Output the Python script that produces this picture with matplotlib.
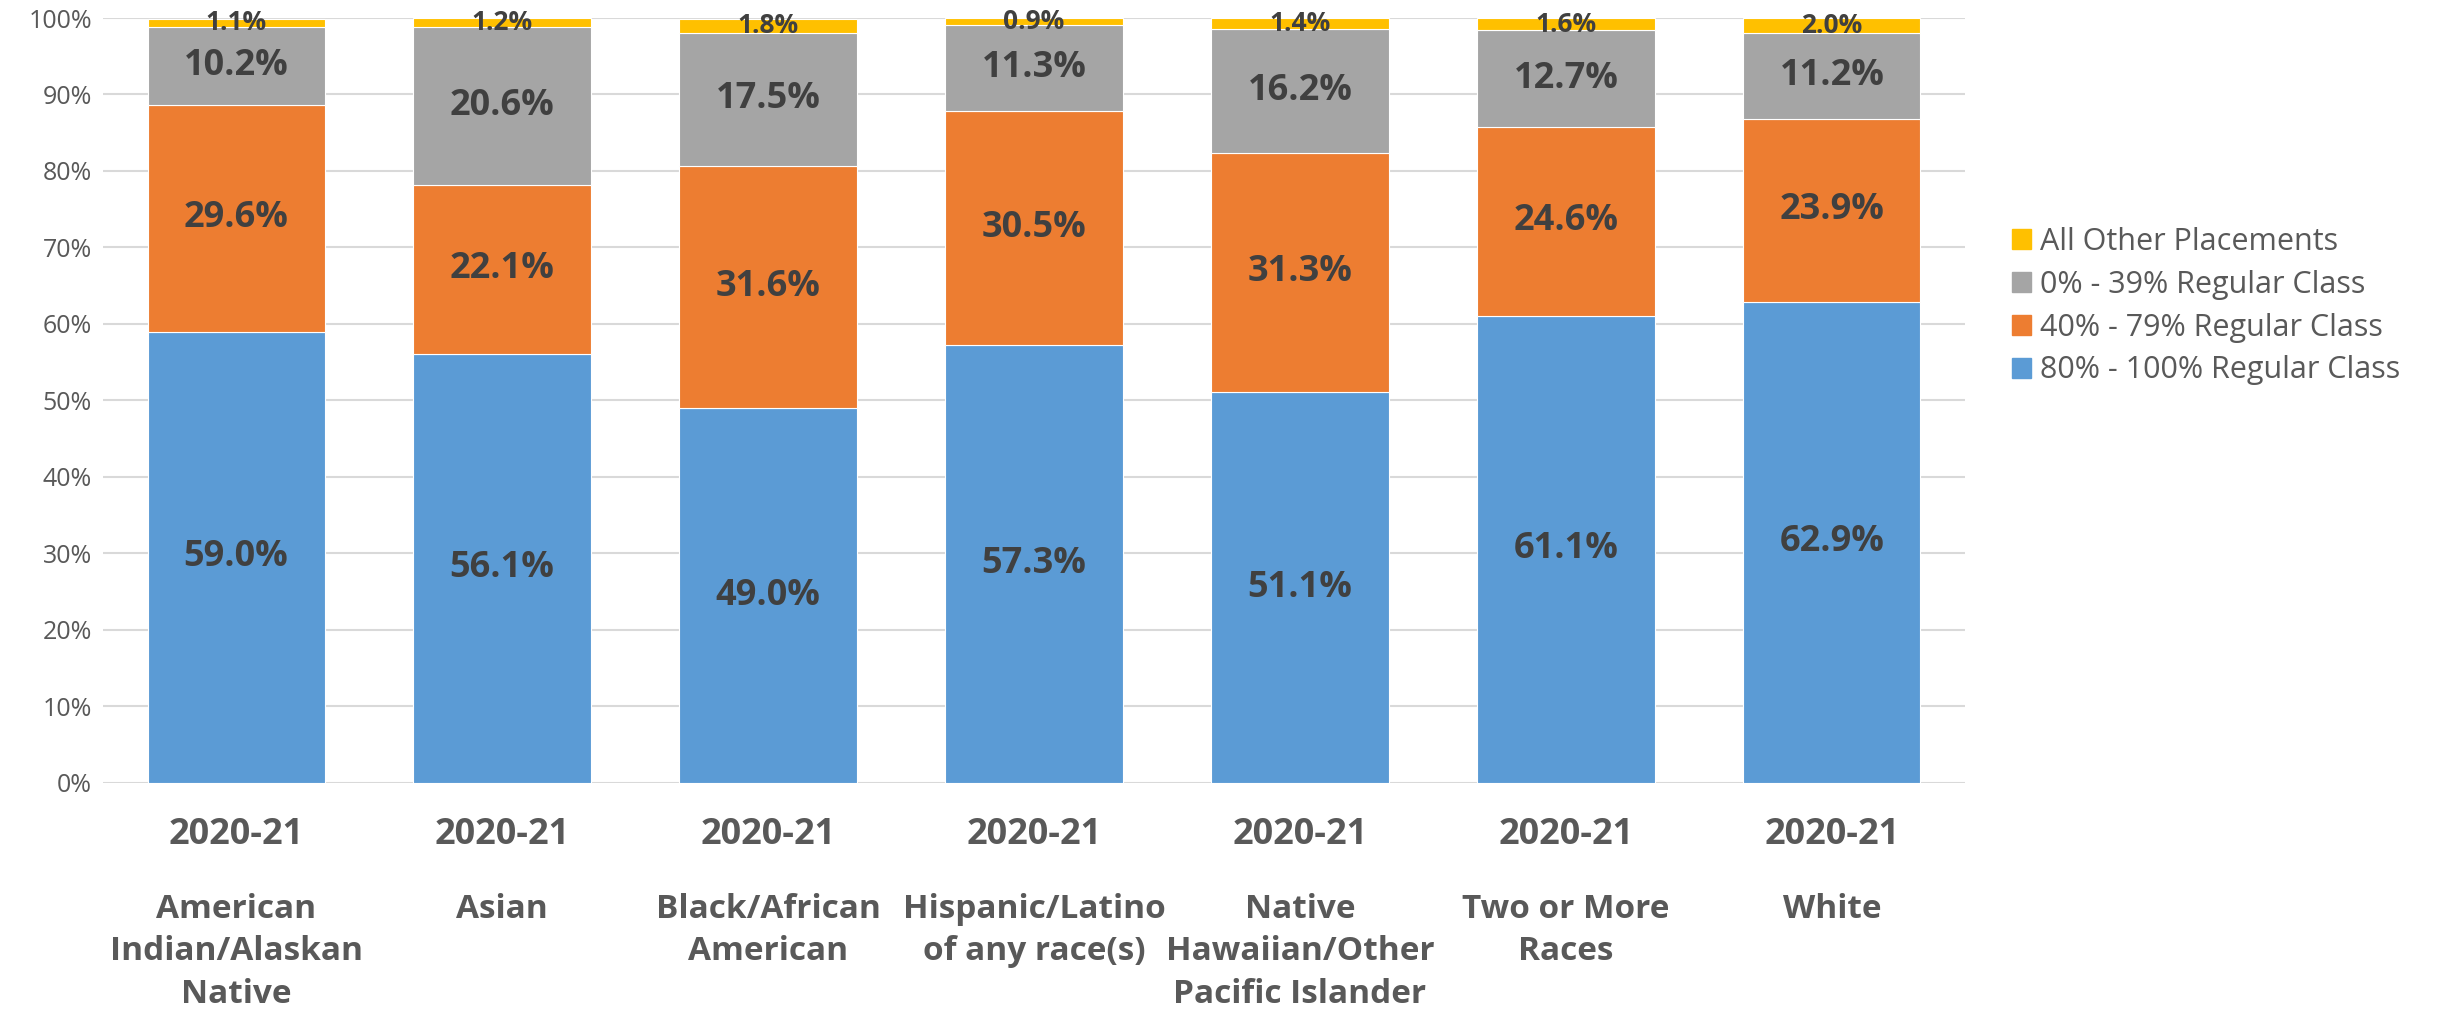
import numpy as np
import matplotlib
matplotlib.use("Agg")
import matplotlib.pyplot as plt
from matplotlib.transforms import blended_transform_factory
from matplotlib.patches import Patch

plt.rcParams['font.family'] = ['Open Sans', 'DejaVu Sans']

# data (percent of students)
groups = ['American\nIndian/Alaskan\nNative', 'Asian', 'Black/African\nAmerican',
          'Hispanic/Latino\nof any race(s)', 'Native\nHawaiian/Other\nPacific Islander',
          'Two or More\nRaces', 'White']
year = '2020-21'
series_names = ['80% - 100% Regular Class', '40% - 79% Regular Class',
                '0% - 39% Regular Class', 'All Other Placements']
reg_80_100 = [59.0, 56.1, 49.0, 57.3, 51.1, 61.1, 62.9]
reg_40_79 = [29.6, 22.1, 31.6, 30.5, 31.3, 24.6, 23.9]
reg_0_39 = [10.2, 20.6, 17.5, 11.3, 16.2, 12.7, 11.2]
other = [1.1, 1.2, 1.8, 0.9, 1.4, 1.6, 2.0]
colors = ['#5B9BD5', '#ED7D31', '#A5A5A5', '#FFC000']

fig = plt.figure(figsize=(24.43, 10.17), dpi=100)
ax = fig.add_axes([0.0422, 0.2301, 0.7621, 0.7522])

x = np.arange(len(groups))
bottom = np.zeros(len(groups))
for vals, name, col in zip([reg_80_100, reg_40_79, reg_0_39, other], series_names, colors):
    vals = np.array(vals)
    ax.bar(x, vals, 0.666, bottom=bottom, color=col, edgecolor='white', linewidth=0.8,
           label=name, zorder=3)
    small = name == 'All Other Placements'
    for xi, b, v in zip(x, bottom, vals):
        ax.text(xi, b + v / 2, f'{v:.1f}%', ha='center', va='center',
                fontsize=19 if small else 26, fontweight='bold', color='#404040', zorder=4)
    bottom += vals

ax.set_xlim(-0.5, len(groups) - 0.5)
ax.set_ylim(0, 100)
ax.set_yticks(np.arange(0, 101, 10))
ax.set_yticklabels([f'{t}%' for t in range(0, 101, 10)])
ax.tick_params(axis='y', length=0, labelsize=18, labelcolor='#595959', pad=8)
ax.set_xticks([])
ax.yaxis.grid(True, color='#D9D9D9', linewidth=1.5, zorder=0)
for s in ax.spines.values():
    s.set_visible(False)

# two-level category axis: year on top, group name below
trans = blended_transform_factory(ax.transData, ax.transAxes)
for xi, g in zip(x, groups):
    ax.text(xi, -0.068, year, transform=trans, ha='center', va='center',
            fontsize=26, fontweight='bold', color='#595959')
    ax.text(xi, -0.1435, g, transform=trans, ha='center', va='top', linespacing=1.385,
            fontsize=24, fontweight='bold', color='#595959')

handles = [Patch(color=c) for c in colors[::-1]]
leg = fig.legend(handles, series_names[::-1], loc='center left', bbox_to_anchor=(0.8185, 0.699),
                 frameon=False, fontsize=22, handlelength=0.62, handleheight=0.62,
                 handletextpad=0.3, labelspacing=0.42, borderaxespad=0)
for t in leg.get_texts():
    t.set_color('#595959')

fig.savefig('out.png', dpi=100)
